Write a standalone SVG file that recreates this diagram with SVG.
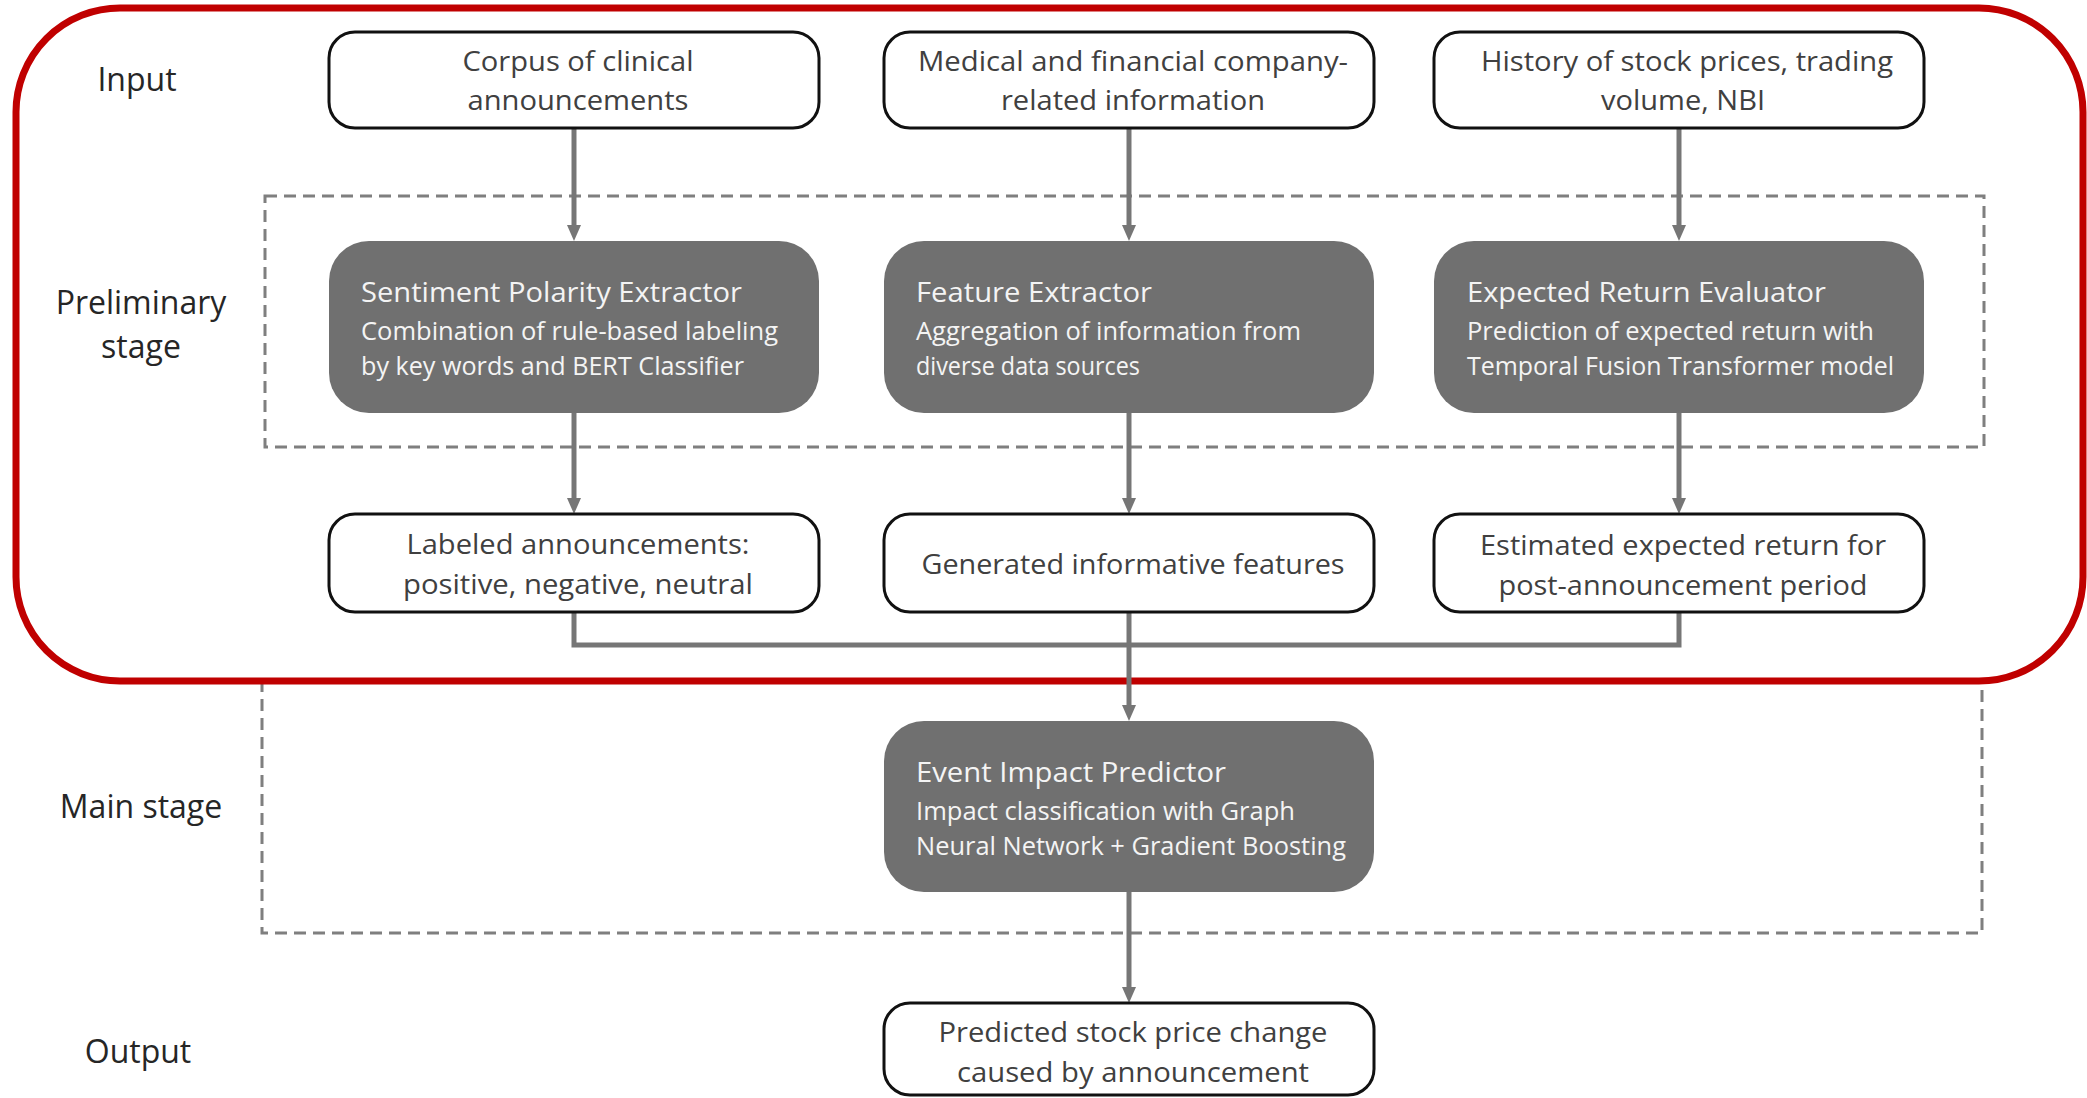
<svg xmlns="http://www.w3.org/2000/svg" width="2087" height="1098" viewBox="0 0 2087 1098">
<style>
.bg{fill:#ffffff}
.stage{fill:none;stroke:#7f7f7f;stroke-width:3;stroke-dasharray:12 7}
.red{fill:none;stroke:#c00000;stroke-width:7}
.conn{fill:none;stroke:#767676;stroke-width:5}
.io{fill:#ffffff;stroke:#111111;stroke-width:3}
.proc{fill:#707070;stroke:none}
text{font-family:"Open Sans","Noto Sans","Liberation Sans",sans-serif}
.lbl{font-size:32px;fill:#262626;text-anchor:middle}
.t{font-size:28px;fill:#404040;text-anchor:middle}
.h{font-size:28px;fill:#f4f4f4}
.s{font-size:25px;fill:#f4f4f4}
</style>
<defs>
<marker id="arr" markerUnits="userSpaceOnUse" markerWidth="16" markerHeight="14" refX="6" refY="7" orient="auto">
<path d="M0,0 L16,7 L0,14 Z" fill="#767676"/>
</marker>
</defs>
<rect class="bg" x="0" y="0" width="2087" height="1098"/>

<g id="stages">
<rect class="stage" x="265" y="196" width="1719" height="251"/>
<rect class="stage" x="262" y="681" width="1720" height="252"/>
<rect class="red" x="16" y="8" width="2067" height="673" rx="104" ry="104"/>
</g>

<g id="labels">
<text class="lbl" x="137" y="91">Input</text>
<text class="lbl" x="141" y="314">Preliminary</text>
<text class="lbl" x="141" y="358">stage</text>
<text class="lbl" x="141" y="818">Main stage</text>
<text class="lbl" x="138" y="1063">Output</text>
</g>

<g id="connectors">
<line class="conn" x1="574" y1="128" x2="574" y2="231" marker-end="url(#arr)"/>
<line class="conn" x1="1129" y1="128" x2="1129" y2="231" marker-end="url(#arr)"/>
<line class="conn" x1="1679" y1="128" x2="1679" y2="231" marker-end="url(#arr)"/>
<line class="conn" x1="574" y1="413" x2="574" y2="504" marker-end="url(#arr)"/>
<line class="conn" x1="1129" y1="413" x2="1129" y2="504" marker-end="url(#arr)"/>
<line class="conn" x1="1679" y1="413" x2="1679" y2="504" marker-end="url(#arr)"/>
<path class="conn" d="M574,612 V645 H1679 V612"/>
<line class="conn" x1="1129" y1="612" x2="1129" y2="711" marker-end="url(#arr)"/>
<line class="conn" x1="1129" y1="892" x2="1129" y2="993" marker-end="url(#arr)"/>
</g>

<g id="in-corpus">
<rect class="io" x="329" y="32" width="490" height="96" rx="26"/>
<text class="t" x="578" y="71" textLength="231" lengthAdjust="spacingAndGlyphs">Corpus of clinical</text>
<text class="t" x="578" y="110" textLength="221" lengthAdjust="spacingAndGlyphs">announcements</text>
</g>
<g id="in-info">
<rect class="io" x="884" y="32" width="490" height="96" rx="26"/>
<text class="t" x="1133" y="71" textLength="430" lengthAdjust="spacingAndGlyphs">Medical and financial company-</text>
<text class="t" x="1133" y="110" textLength="264" lengthAdjust="spacingAndGlyphs">related information</text>
</g>
<g id="in-history">
<rect class="io" x="1434" y="32" width="490" height="96" rx="26"/>
<text class="t" x="1687" y="71" textLength="412" lengthAdjust="spacingAndGlyphs">History of stock prices, trading</text>
<text class="t" x="1683" y="110" textLength="164" lengthAdjust="spacingAndGlyphs">volume, NBI</text>
</g>

<g id="sentiment">
<rect class="proc" x="329" y="241" width="490" height="172" rx="40"/>
<text class="h" x="361" y="302" textLength="381" lengthAdjust="spacingAndGlyphs">Sentiment Polarity Extractor</text>
<text class="s" x="361" y="340" textLength="417" lengthAdjust="spacingAndGlyphs">Combination of rule-based labeling</text>
<text class="s" x="361" y="375" textLength="383" lengthAdjust="spacingAndGlyphs">by key words and BERT Classifier</text>
</g>
<g id="feature">
<rect class="proc" x="884" y="241" width="490" height="172" rx="40"/>
<text class="h" x="916" y="302" textLength="236" lengthAdjust="spacingAndGlyphs">Feature Extractor</text>
<text class="s" x="916" y="340" textLength="385" lengthAdjust="spacingAndGlyphs">Aggregation of information from</text>
<text class="s" x="916" y="375" textLength="224" lengthAdjust="spacingAndGlyphs">diverse data sources</text>
</g>
<g id="expected">
<rect class="proc" x="1434" y="241" width="490" height="172" rx="40"/>
<text class="h" x="1467" y="302" textLength="359" lengthAdjust="spacingAndGlyphs">Expected Return Evaluator</text>
<text class="s" x="1467" y="340" textLength="407" lengthAdjust="spacingAndGlyphs">Prediction of expected return with</text>
<text class="s" x="1467" y="375" textLength="427" lengthAdjust="spacingAndGlyphs">Temporal Fusion Transformer model</text>
</g>

<g id="labeled">
<rect class="io" x="329" y="514" width="490" height="98" rx="26"/>
<text class="t" x="578" y="554" textLength="343" lengthAdjust="spacingAndGlyphs">Labeled announcements:</text>
<text class="t" x="578" y="594" textLength="350" lengthAdjust="spacingAndGlyphs">positive, negative, neutral</text>
</g>
<g id="generated">
<rect class="io" x="884" y="514" width="490" height="98" rx="26"/>
<text class="t" x="1133" y="574" textLength="423" lengthAdjust="spacingAndGlyphs">Generated informative features</text>
</g>
<g id="estimated">
<rect class="io" x="1434" y="514" width="490" height="98" rx="26"/>
<text class="t" x="1683" y="555" textLength="406" lengthAdjust="spacingAndGlyphs">Estimated expected return for</text>
<text class="t" x="1683" y="595" textLength="369" lengthAdjust="spacingAndGlyphs">post-announcement period</text>
</g>

<g id="event">
<rect class="proc" x="884" y="721" width="490" height="171" rx="40"/>
<text class="h" x="916" y="782" textLength="310" lengthAdjust="spacingAndGlyphs">Event Impact Predictor</text>
<text class="s" x="916" y="820" textLength="379" lengthAdjust="spacingAndGlyphs">Impact classification with Graph</text>
<text class="s" x="916" y="855" textLength="430" lengthAdjust="spacingAndGlyphs">Neural Network + Gradient Boosting</text>
</g>

<g id="output">
<rect class="io" x="884" y="1003" width="490" height="92" rx="26"/>
<text class="t" x="1133" y="1042" textLength="389" lengthAdjust="spacingAndGlyphs">Predicted stock price change</text>
<text class="t" x="1133" y="1082" textLength="352" lengthAdjust="spacingAndGlyphs">caused by announcement</text>
</g>
</svg>
